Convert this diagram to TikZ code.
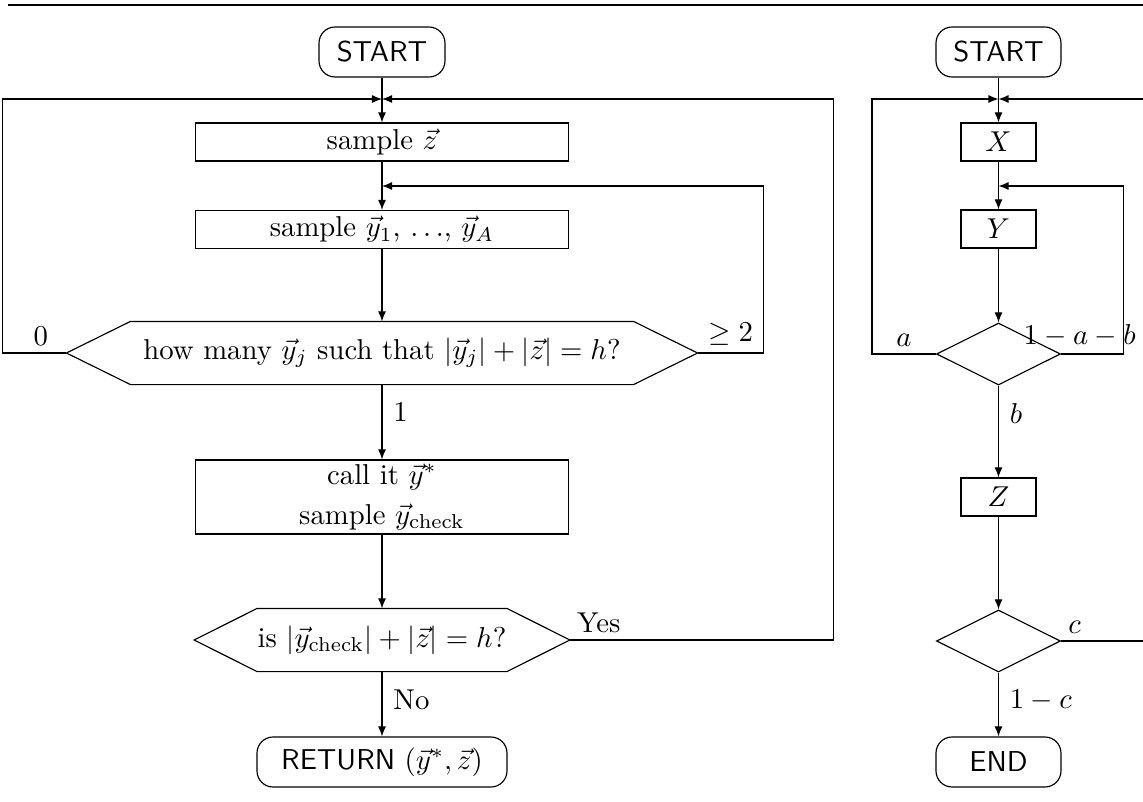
\documentclass[tikz,border=0pt]{standalone}
\usetikzlibrary{shapes.geometric,calc,arrows.meta}
\newcommand{\pxu}[1]{#1*0.348pt}
\begin{document}
\begin{tikzpicture}[x=0.348pt,y=-0.348pt,
  arr/.style={-{Latex[length=3.5pt,width=2.8pt]}},
  termbox/.style={draw, rounded corners=5.6pt, font=\sffamily, minimum height=\pxu{50}, inner sep=0pt},
  procbox/.style={draw, minimum height=\pxu{38}, inner sep=0pt},
  hexbody/.style={minimum height=\pxu{62}, inner sep=0pt},
  dec/.style={draw, diamond, minimum width=\pxu{124}, minimum height=\pxu{62}, inner sep=0pt},
  lab/.style={inner sep=2.3pt},
  rlab/.style={right, inner sep=3.8pt}]
\useasboundingbox (0,0) rectangle (1143,802);

% top rule
\draw (8,5) -- (1143,5);

% ---------- left flowchart ----------
\node[termbox, minimum width=\pxu{126}] (s1) at (382,52) {START};
\coordinate (m1) at (382,99);
\node[procbox, minimum width=\pxu{373}] (bz) at (382,142) {sample $\vec{z}$};
\coordinate (m2) at (382,186);
\node[procbox, minimum width=\pxu{373}] (by) at (382,229.5) {sample $\vec{y}_1$, $\ldots$, $\vec{y}_A$};
\node[hexbody, minimum width=\pxu{502}] (h1) at (382,353) {how many $\vec{y}_j$ such that $|\vec{y}_j|+|\vec{z}|=h$?};
\coordinate (h1e) at ($(h1.east)+(64,0)$);
\coordinate (h1w) at ($(h1.west)+(-64,0)$);
\draw (h1.north west) -- (h1.north east) -- (h1e) -- (h1.south east) -- (h1.south west) -- (h1w) -- cycle;
\node[procbox, minimum width=\pxu{373}, minimum height=\pxu{74}, align=center] (bc) at (382,497)
  {call it $\vec{y}^*$\\[2pt] sample $\vec{y}_{\mathrm{check}}$};
\node[hexbody, minimum width=\pxu{248}] (h2) at (382,640) {is $|\vec{y}_{\mathrm{check}}|+|\vec{z}|=h$?};
\coordinate (h2e) at ($(h2.east)+(63,0)$);
\coordinate (h2w) at ($(h2.west)+(-63,0)$);
\draw (h2.north west) -- (h2.north east) -- (h2e) -- (h2.south east) -- (h2.south west) -- (h2w) -- cycle;
\node[termbox, minimum width=\pxu{250}] (ret) at (382,762) {RETURN $(\vec{y}^*,\vec{z})$};

\draw (s1) -- (m1);
\draw[arr] (m1) -- (bz);
\draw (bz) -- (m2);
\draw[arr] (m2) -- (by);
\draw[arr] (by) -- (h1);
\draw[arr] (h1w) -- node[above, lab, pos=0.4] {0} ++(-64,0) |- (m1);
\draw[arr] (h1e) -- node[above, lab] {$\geq 2$} ++(66,0) |- (m2);
\draw[arr] (h1) -- node[rlab, pos=0.37] {1} (bc);
\draw[arr] (bc) -- (h2);
\draw[arr] (h2e) -- node[pos=0, above right, lab] {Yes} ++(264,0) |- (m1);
\draw[arr] (h2) -- node[rlab, pos=0.44] {No} (ret);

% ---------- right flowchart ----------
\node[termbox, minimum width=\pxu{125}] (s2) at (998.5,52) {START};
\coordinate (n1) at (998.5,99);
\node[procbox, minimum width=\pxu{75}] (bX) at (998.5,142) {$X$};
\coordinate (n2) at (998.5,186);
\node[procbox, minimum width=\pxu{75}] (bY) at (998.5,229) {$Y$};
\node[dec] (d1) at (998.5,354) {};
\node[procbox, minimum width=\pxu{75}] (bZ) at (998.5,497) {$Z$};
\node[dec] (d2) at (998.5,641) {};
\node[termbox, minimum width=\pxu{125}] (e2) at (998.5,762) {END};

\draw (s2) -- (n1);
\draw[arr] (n1) -- (bX);
\draw (bX) -- (n2);
\draw[arr] (n2) -- (bY);
\draw[arr] (bY) -- (d1);
\draw[arr] (d1.west) -- node[above, lab] {$a$} ++(-64,0) |- (n1);
\draw[arr] (d1.east) -- node[above, lab, pos=0.3] {$1-a-b$} ++(62,0) |- (n2);
\draw[arr] (d1.south) -- node[rlab, pos=0.3] {$b$} (bZ);
\draw[arr] (bZ) -- (d2);
\draw[arr] (d2.east) -- node[pos=0, above right, lab] {$c$} ++(130,0) |- (n1);
\draw[arr] (d2.south) -- node[rlab, pos=0.43] {$1-c$} (e2);
\end{tikzpicture}
\end{document}
